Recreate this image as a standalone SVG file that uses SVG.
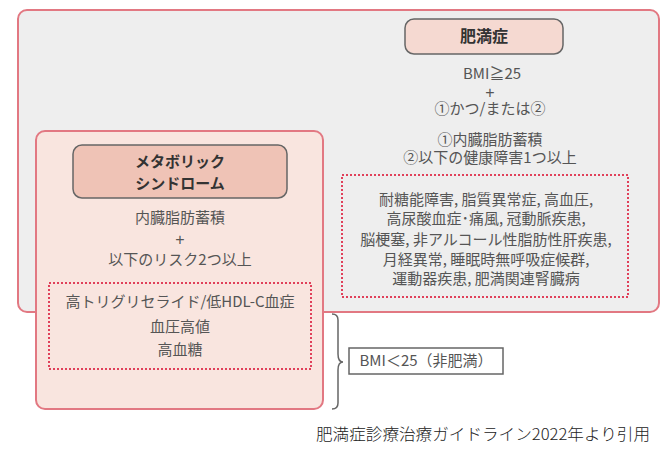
<svg xmlns="http://www.w3.org/2000/svg" width="672" height="456" viewBox="0 0 672 456">
<style>
text{font-family:"Noto Sans CJK JP","Liberation Sans",sans-serif;fill:#555;text-anchor:middle}
.t{font-size:15px}
.p{font-family:"Liberation Sans",sans-serif;font-size:16px}
.b{font-size:15px;font-weight:bold;fill:#333}
.dot{fill:none;stroke:#e0405a;stroke-width:2;stroke-dasharray:2 2}
.cite{font-size:16px;fill:#222;text-anchor:start;font-weight:300}
</style>
<rect width="672" height="456" fill="#fff"/>
<g id="obesity">
<rect x="18" y="10" width="641" height="302" rx="9" fill="#eeeeee" stroke="#e27882" stroke-width="2"/>
<rect x="405" y="19" width="158" height="35" rx="9" fill="#f5d9d1" stroke="#666" stroke-width="1.5"/>
<text class="b" x="484" y="42" style="font-size:16px">肥満症</text>
<text class="t" x="492" y="79">BMI≧25</text>
<text class="p" x="490" y="98">+</text>
<text class="t" x="490" y="114">①かつ/または②</text>
<text class="t" x="490" y="145">①内臓脂肪蓄積</text>
<text class="t" x="490" y="163">②以下の健康障害1つ以上</text>
<rect class="dot" x="342" y="175" width="286" height="122"/>
<text class="t" x="486" y="205">耐糖能障害, 脂質異常症, 高血圧,</text>
<text class="t" x="486" y="224">高尿酸血症･痛風, 冠動脈疾患,</text>
<text class="t" x="486" y="245">脳梗塞, 非アルコール性脂肪性肝疾患,</text>
<text class="t" x="486" y="265">月経異常, 睡眠時無呼吸症候群,</text>
<text class="t" x="486" y="284">運動器疾患, 肥満関連腎臓病</text>
</g>
<g id="metabolic">
<rect x="36" y="131" width="287" height="278" rx="9" fill="#f9e5df" stroke="#e27882" stroke-width="2"/>
<rect x="73" y="145" width="214" height="53" rx="9" fill="#efc3b6" stroke="#666" stroke-width="1.5"/>
<text class="b" x="180" y="167">メタボリック</text>
<text class="b" x="180" y="189">シンドローム</text>
<text class="t" x="180" y="223">内臓脂肪蓄積</text>
<text class="p" x="180" y="245">+</text>
<text class="t" x="180" y="265">以下のリスク2つ以上</text>
<rect class="dot" x="49" y="283" width="262" height="86"/>
<text class="t" x="180" y="307">高トリグリセライド/低HDL-C血症</text>
<text class="t" x="180" y="332">血圧高値</text>
<text class="t" x="180" y="355">高血糖</text>
</g>
<g id="connectors">
<path d="M332 314 q6 0 6 6 v34 q0 8 5 8 q-5 0 -5 8 v33 q0 6 -6 6" fill="none" stroke="#666" stroke-width="1.5"/>
</g>
<g id="nonobese">
<rect x="349" y="348" width="154" height="26" fill="#fff" stroke="#666" stroke-width="1.5"/>
<text class="t" x="426" y="366">BMI＜25（非肥満）</text>
</g>
<text class="cite" x="316" y="440" textLength="334" lengthAdjust="spacingAndGlyphs">肥満症診療治療ガイドライン2022年より引用</text>
</svg>
